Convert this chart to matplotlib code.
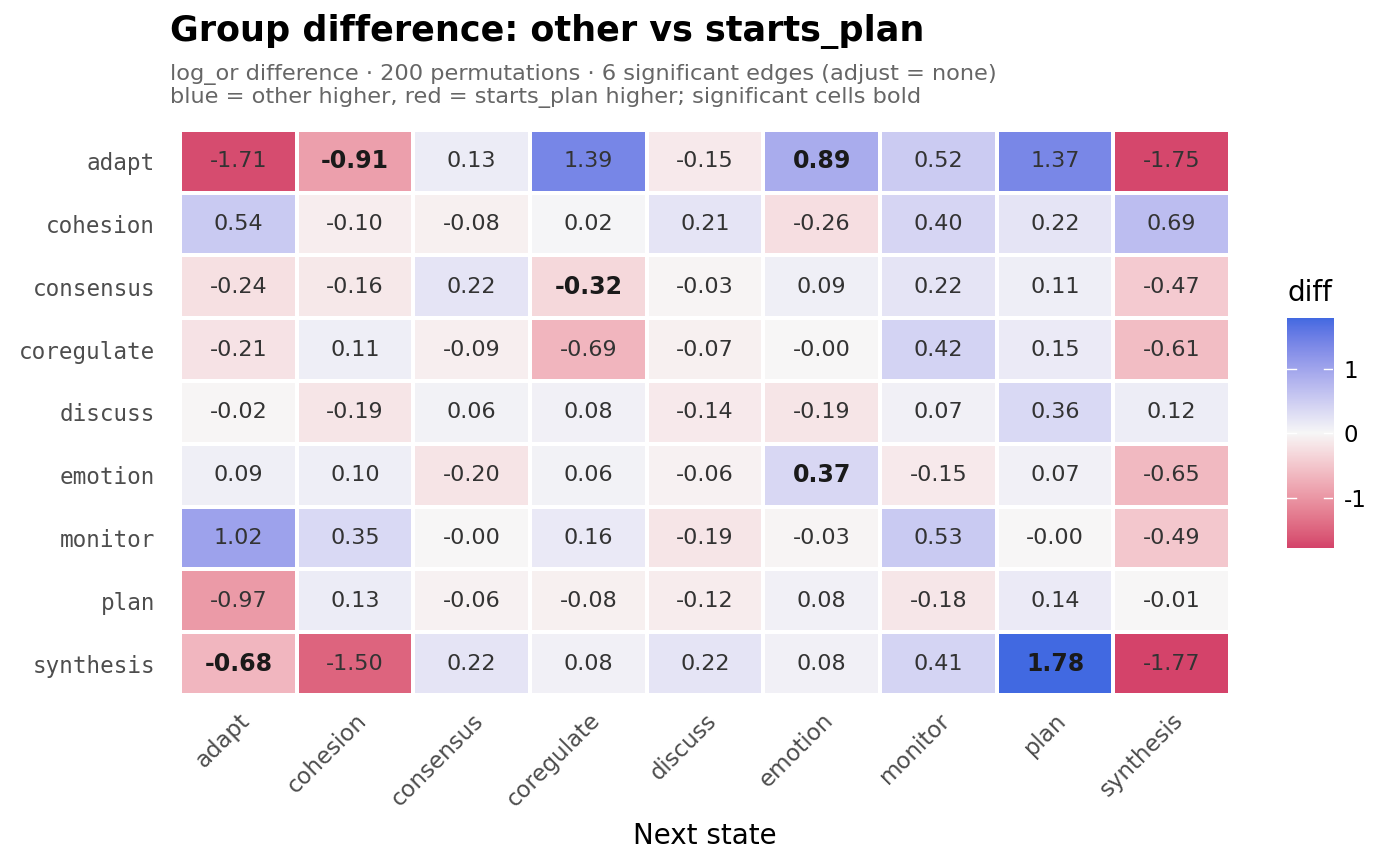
import numpy as np
import matplotlib
matplotlib.use("Agg")
import matplotlib.pyplot as plt
from matplotlib.colors import ListedColormap, Normalize

plt.rcParams["axes.unicode_minus"] = False

# Data
states = ["adapt", "cohesion", "consensus", "coregulate", "discuss",
          "emotion", "monitor", "plan", "synthesis"]

diff = [
    [-1.71, -0.91, 0.13, 1.39, -0.15, 0.89, 0.52, 1.37, -1.75],
    [0.54, -0.10, -0.08, 0.02, 0.21, -0.26, 0.40, 0.22, 0.69],
    [-0.24, -0.16, 0.22, -0.32, -0.03, 0.09, 0.22, 0.11, -0.47],
    [-0.21, 0.11, -0.09, -0.69, -0.07, -0.004, 0.42, 0.15, -0.61],
    [-0.02, -0.19, 0.06, 0.08, -0.14, -0.19, 0.07, 0.36, 0.12],
    [0.09, 0.10, -0.20, 0.06, -0.06, 0.37, -0.15, 0.07, -0.65],
    [1.02, 0.35, -0.004, 0.16, -0.19, -0.03, 0.53, -0.004, -0.49],
    [-0.97, 0.13, -0.06, -0.08, -0.12, 0.08, -0.18, 0.14, -0.01],
    [-0.68, -1.50, 0.22, 0.08, 0.22, 0.08, 0.41, 1.78, -1.77],
]

# significant cells (row, col)
significant = [(0, 1), (0, 5), (2, 3), (5, 5), (8, 0), (8, 7)]

LOW = "#D4436A"
MID = "#F7F7F7"
HIGH = "#4169E1"


# colour helpers: interpolate in Lab like ggplot's gradient2
def hex_to_rgb(h):
    h = h.lstrip("#")
    return np.array([int(h[i:i + 2], 16) / 255 for i in (0, 2, 4)])


M = np.array([[0.4124, 0.3576, 0.1805],
              [0.2126, 0.7152, 0.0722],
              [0.0193, 0.1192, 0.9505]])
WHITE = np.array([0.95047, 1.0, 1.08883])


def rgb_to_lab(rgb):
    c = np.where(rgb <= 0.04045, rgb / 12.92, ((rgb + 0.055) / 1.055) ** 2.4)
    xyz = M @ c / WHITE
    f = np.where(xyz > 0.008856, np.cbrt(xyz), 7.787 * xyz + 16 / 116)
    return np.array([116 * f[1] - 16, 500 * (f[0] - f[1]), 200 * (f[1] - f[2])])


def lab_to_rgb(lab):
    fy = (lab[0] + 16) / 116
    fx = fy + lab[1] / 500
    fz = fy - lab[2] / 200
    f = np.array([fx, fy, fz])
    xyz = np.where(f ** 3 > 0.008856, f ** 3, (f - 16 / 116) / 7.787) * WHITE
    c = np.linalg.solve(M, xyz)
    rgb = np.where(c <= 0.0031308, 12.92 * c, 1.055 * np.clip(c, 0, None) ** (1 / 2.4) - 0.055)
    return np.clip(rgb, 0, 1)


def make_cmap(low, mid, high, n=256):
    l0, l1, l2 = (rgb_to_lab(hex_to_rgb(c)) for c in (low, mid, high))
    cols = []
    for t in np.linspace(0, 1, n):
        if t < 0.5:
            lab = l0 + (l1 - l0) * (t / 0.5)
        else:
            lab = l1 + (l2 - l1) * ((t - 0.5) / 0.5)
        cols.append(lab_to_rgb(lab))
    return ListedColormap(cols)


cmap = make_cmap(LOW, MID, HIGH)
values = np.array(diff)
lim = np.abs(values).max()
norm = Normalize(-lim, lim)

fig = plt.figure(figsize=(14, 8.66), dpi=100)
ax = fig.add_axes([0.1286, 0.1975, 0.75, 0.6525])

n = len(states)
ax.pcolormesh(np.arange(n + 1), np.arange(n + 1), values, cmap=cmap, norm=norm,
              edgecolor="white", linewidth=1.5)
ax.set_xlim(0, n)
ax.set_ylim(n, 0)

for i in range(n):
    for j in range(n):
        bold = (i, j) in significant
        ax.text(j + 0.5, i + 0.5, f"{values[i, j]:.2f}", ha="center", va="center",
                fontsize=17 if bold else 16,
                fontweight="bold" if bold else "normal",
                color="#1A1A1A" if bold else "#333333")

ax.set_xticks(np.arange(n) + 0.5)
ax.set_xticklabels(states, rotation=45, ha="right", rotation_mode="anchor",
                   fontsize=16.5, color="#4D4D4D")
ax.set_yticks(np.arange(n) + 0.5)
ax.set_yticklabels(states, fontsize=16.3, color="#4D4D4D", family="DejaVu Sans Mono")
ax.tick_params(axis="y", length=0, pad=18)
ax.tick_params(axis="x", length=0, pad=10)
for s in ax.spines.values():
    s.set_visible(False)
ax.set_xlabel("Next state", fontsize=20, labelpad=8)

# colour bar
cax = fig.add_axes([0.919, 0.367, 0.033, 0.2656])
lo, hi = values.min(), values.max()
grad = np.linspace(lo, hi, 300).reshape(-1, 1)
cax.imshow(grad, aspect="auto", origin="lower", cmap=cmap, norm=norm,
           extent=[0, 1, lo, hi])
cax.set_xlim(0, 1)
cax.set_ylim(lo, hi)
cax.set_xticks([])
cax.yaxis.tick_right()
cax.set_yticks([-1, 0, 1])
cax.tick_params(axis="y", length=0, labelsize=16.5, pad=8)
for s in cax.spines.values():
    s.set_visible(False)
for t in (-1, 0, 1):
    cax.plot([0, 0.2], [t, t], color="white", lw=1)
    cax.plot([0.8, 1], [t, t], color="white", lw=1)
fig.text(0.9195, 0.653, "diff", fontsize=20, ha="left", va="baseline")

fig.text(0.1214, 0.953, "Group difference: other vs starts_plan",
         fontsize=25.2, fontweight="bold", ha="left", va="baseline")
fig.text(0.1214, 0.9076,
         "log_or difference \u00b7 200 permutations \u00b7 6 significant edges (adjust = none)",
         fontsize=16.2, color="#666666", ha="left", va="baseline")
fig.text(0.1214, 0.881, "blue = other higher, red = starts_plan higher; significant cells bold",
         fontsize=16.2, color="#666666", ha="left", va="baseline")

fig.savefig("out.png", dpi=100)
